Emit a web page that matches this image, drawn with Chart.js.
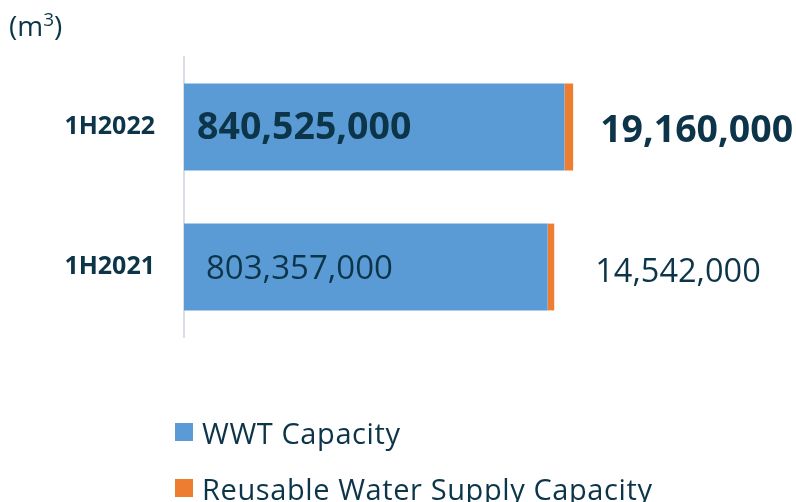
<!DOCTYPE html>
<html>
<head>
<meta charset="utf-8">
<script src="https://cdn.jsdelivr.net/npm/chart.js@4"></script>
<style>
  html, body { margin: 0; padding: 0; background: #ffffff; }
  #wrap { position: relative; width: 796px; height: 502px; overflow: hidden; }
  #unit { position: absolute; left: 9px; top: 6px; font-family: "Open Sans", sans-serif; font-size: 28px; color: #0c3549; }
  #unit sup { font-size: 19px; vertical-align: 10px; line-height: 0; }
  #legend { position: absolute; left: 175px; top: 404px; font-family: "Open Sans", sans-serif; color: #0c3549; }
  .item { display: flex; align-items: center; height: 56px; font-size: 29px; letter-spacing: 0.6px; white-space: nowrap; }
  .sw { width: 18px; height: 18px; margin-right: 9px; flex: none; }
</style>
</head>
<body>
<div id="wrap">
  <canvas id="c" width="796" height="502"></canvas>
  <div id="unit">(m<sup>3</sup>)</div>
  <div id="legend"></div>
</div>
<script>
const categories = ['1H2022', '1H2021'];
const seriesNames = ['WWT Capacity', 'Reusable Water Supply Capacity'];
const wwtCapacity = [840525000, 803357000];
const reusableCapacity = [19160000, 14542000];
const seriesColors = ['#5B9BD5', '#ED7D31'];

const textColor = '#0c3549';
const fmt = v => v.toLocaleString('en-US');

const valueLabels = {
  id: 'valueLabels',
  afterDatasetsDraw(chart) {
    const ctx = chart.ctx;
    ctx.save();
    ctx.fillStyle = textColor;
    ctx.textBaseline = 'middle';
    ctx.textAlign = 'left';
    const m0 = chart.getDatasetMeta(0);
    const m1 = chart.getDatasetMeta(1);
    const inOff = [13, 22];
    const outOff = [27, 41];
    const yOff = [1, 3];
    m0.data.forEach((el, i) => {
      const bold = i === 0;
      ctx.font = (bold ? 'bold 37.5px' : '33px') + ' "Open Sans", sans-serif';
      ctx.fillText(fmt(chart.data.datasets[0].data[i]), el.base + inOff[i], el.y + yOff[i]);
    });
    m1.data.forEach((el, i) => {
      const bold = i === 0;
      ctx.font = (bold ? 'bold 37.5px' : '32.5px') + ' "Open Sans", sans-serif';
      ctx.fillText(fmt(chart.data.datasets[1].data[i]), el.x + outOff[i], el.y + yOff[i] + 3);
    });
    ctx.restore();
  }
};

const chart = new Chart(document.getElementById('c'), {
  type: 'bar',
  data: {
    labels: categories,
    datasets: [
      { label: seriesNames[0], data: wwtCapacity, backgroundColor: seriesColors[0] },
      { label: seriesNames[1], data: reusableCapacity, backgroundColor: seriesColors[1] }
    ]
  },
  options: {
    indexAxis: 'y',
    responsive: false,
    animation: false,
    layout: { padding: { top: 57, bottom: 165, left: 0, right: 0 } },
    datasets: { bar: { categoryPercentage: 1, barPercentage: 0.62 } },
    plugins: { legend: { display: false }, tooltip: { enabled: false }, title: { display: false } },
    scales: {
      x: { stacked: true, display: false, min: 0, max: 1352000000 },
      y: {
        stacked: true,
        afterFit: s => { s.width = 184; },
        grid: { display: false, drawTicks: false },
        border: { display: true, color: '#d9dee5', width: 2 },
        ticks: {
          padding: 29,
          color: textColor,
          font: { family: '"Open Sans", sans-serif', size: 25, weight: 'bold' }
        }
      }
    }
  },
  plugins: [valueLabels]
});

const legend = document.getElementById('legend');
chart.data.datasets.forEach(ds => {
  const row = document.createElement('div');
  row.className = 'item';
  const sw = document.createElement('span');
  sw.className = 'sw';
  sw.style.background = ds.backgroundColor;
  const tx = document.createElement('span');
  tx.textContent = ds.label;
  row.appendChild(sw);
  row.appendChild(tx);
  legend.appendChild(row);
});
</script>
</body>
</html>
